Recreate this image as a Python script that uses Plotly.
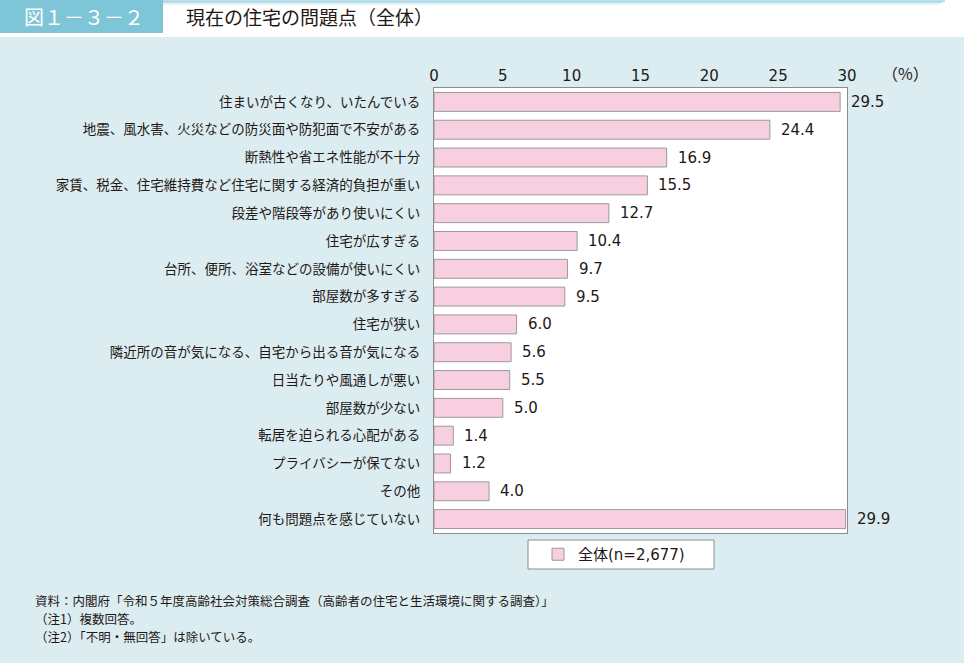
import plotly.graph_objects as go

categories = [
    "住まいが古くなり、いたんでいる",
    "地震、風水害、火災などの防災面や防犯面で不安がある",
    "断熱性や省エネ性能が不十分",
    "家賃、税金、住宅維持費など住宅に関する経済的負担が重い",
    "段差や階段等があり使いにくい",
    "住宅が広すぎる",
    "台所、便所、浴室などの設備が使いにくい",
    "部屋数が多すぎる",
    "住宅が狭い",
    "隣近所の音が気になる、自宅から出る音が気になる",
    "日当たりや風通しが悪い",
    "部屋数が少ない",
    "転居を迫られる心配がある",
    "プライバシーが保てない",
    "その他",
    "何も問題点を感じていない",
]
values = [29.5, 24.4, 16.9, 15.5, 12.7, 10.4, 9.7, 9.5, 6.0, 5.6, 5.5, 5.0, 1.4, 1.2, 4.0, 29.9]
series_name = "全体(n=2,677)"
x_ticks = [0, 5, 10, 15, 20, 25, 30]
notes = [
    "資料：内閣府「令和５年度高齢社会対策総合調査（高齢者の住宅と生活環境に関する調査）」",
    "（注1）複数回答。",
    "（注2）「不明・無回答」は除いている。",
]

W, H = 964, 663
L, R, T, B = 434, 847, 88, 533
JP = "Noto Sans CJK JP, Noto Sans, sans-serif"
NUM = "DejaVu Sans, Noto Sans CJK JP, sans-serif"


def px(x):
    return (x - L) / (R - L)


def py(y):
    return (B - y) / (B - T)


fig = go.Figure()
fig.add_trace(go.Bar(
    y=categories, x=values, orientation="h", name=series_name,
    marker=dict(color="#f8cfe1", line=dict(color="#9a9a9a", width=1)),
    width=0.68, showlegend=True,
))

annotations = []
for c, v in zip(categories, values):
    annotations.append(dict(x=v, y=c, xref="x", yref="y", text=f"{v:.1f}",
                            showarrow=False, xanchor="left", xshift=9,
                            font=dict(size=15, color="#231815", family=NUM)))

annotations += [
    dict(x=px(22), y=py(17), xref="paper", yref="paper", text="図１－３－２",
         showarrow=False, xanchor="left", yanchor="middle",
         font=dict(size=20, color="white", family=JP)),
    dict(x=px(184), y=py(17), xref="paper", yref="paper", text="現在の住宅の問題点（全体）",
         showarrow=False, xanchor="left", yanchor="middle",
         font=dict(size=19, color="#231815", family=JP)),
    dict(x=px(880), y=py(73), xref="paper", yref="paper", text="（%）",
         showarrow=False, xanchor="left", yanchor="middle",
         font=dict(size=16, color="#231815", family=JP)),
]
for i, n in enumerate(notes):
    annotations.append(dict(x=px(33), y=py(600 + 18.2 * i), xref="paper", yref="paper", text=n,
                            showarrow=False, xanchor="left", yanchor="middle",
                            font=dict(size=12.5, color="#231815", family=JP)))

shapes = [
    dict(type="rect", xref="paper", yref="paper", x0=px(0), x1=px(964), y0=py(0), y1=py(37),
         fillcolor="white", line=dict(width=0), layer="below"),
    dict(type="rect", xref="paper", yref="paper", x0=px(0), x1=px(163), y0=py(0), y1=py(33),
         fillcolor="#7ec6d7", line=dict(width=0), layer="below"),
    dict(type="rect", xref="paper", yref="paper", x0=px(528), x1=px(714), y0=py(540), y1=py(569),
         fillcolor="white", line=dict(color="#8c8c8c", width=1), layer="below"),
]
for i, op in enumerate([0.9, 0.6, 0.35, 0.18, 0.08]):
    shapes.append(dict(type="line", xref="paper", yref="paper", x0=px(163), x1=px(945 - i * 2),
                       y0=py(1 + i), y1=py(1 + i), line=dict(color=f"rgba(110,190,210,{op})", width=1),
                       layer="below"))

fig.update_layout(
    width=W, height=H,
    margin=dict(l=L, r=W - R, t=T, b=H - B, autoexpand=False),
    paper_bgcolor="#dcedf1",
    plot_bgcolor="white",
    font=dict(family=JP, color="#231815"),
    xaxis=dict(side="top", range=[0, 30], tickvals=x_ticks, ticktext=[str(t) for t in x_ticks],
               showgrid=False, zeroline=False, showline=True, linecolor="#8c8c8c", mirror=True,
               ticks="", tickfont=dict(size=15, color="#231815", family=NUM), fixedrange=True),
    yaxis=dict(categoryorder="array", categoryarray=categories, autorange="reversed",
               showgrid=False, showline=True, linecolor="#8c8c8c", mirror=True,
               ticks="", ticklabelstandoff=10, tickfont=dict(size=13.5, color="#231815"),
               fixedrange=True),
    legend=dict(x=px(614), y=py(554.5), xanchor="center", yanchor="middle",
                bgcolor="rgba(0,0,0,0)", borderwidth=0, font=dict(size=15, family=NUM),
                itemwidth=30),
    annotations=annotations,
    shapes=shapes,
)

fig.write_html("out.html", config={"displayModeBar": False},
               post_script="document.body.style.margin='0';document.body.style.padding='0';")
